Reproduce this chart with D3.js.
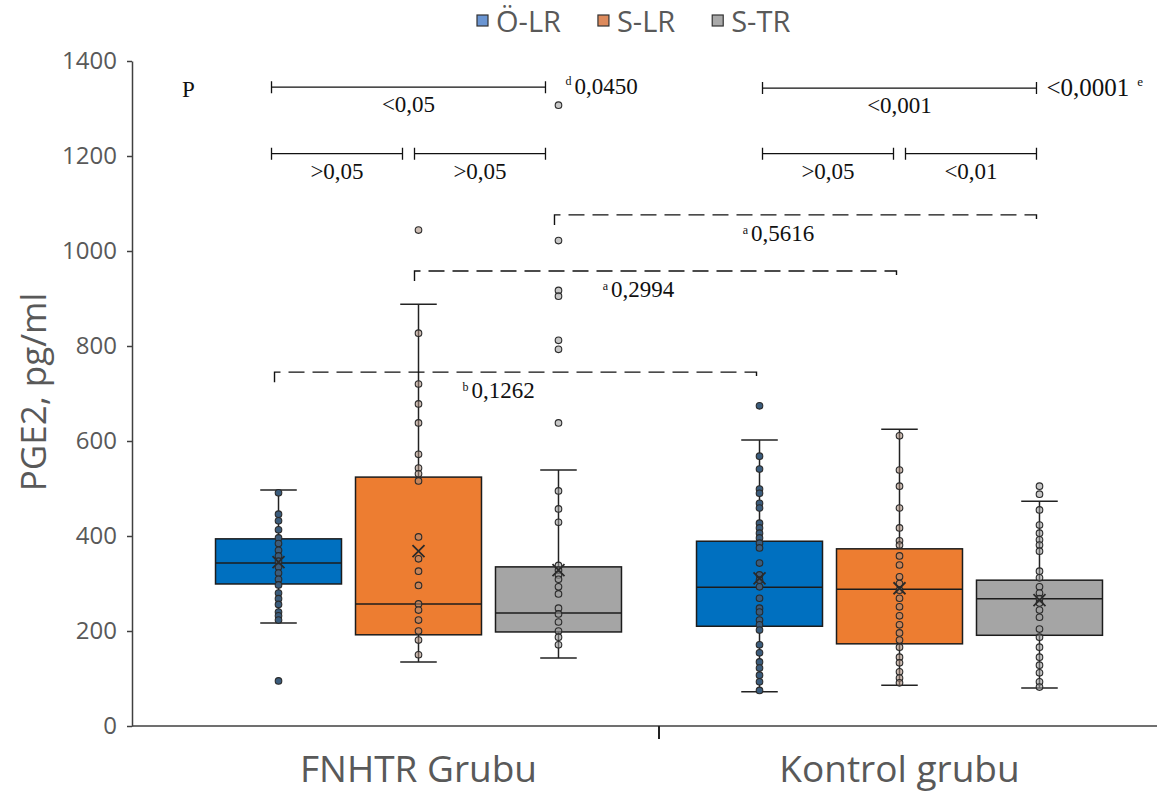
<!DOCTYPE html>
<html>
<head>
<meta charset="utf-8">
<script src="https://cdn.jsdelivr.net/npm/d3@7"></script>
<style>
  body { margin: 0; background: #fff; }
  svg text { font-family: "Open Sans", "Noto Sans", sans-serif; }
  .note { font-family: "Liberation Serif", "Times New Roman", serif; fill: #111; }
</style>
</head>
<body>
<svg width="1157" height="792"></svg>
<script>
// Categories
const groups = ["FNHTR Grubu", "Kontrol grubu"];
const series = ["Ö-LR", "S-LR", "S-TR"];
const yTicks = [0, 200, 400, 600, 800, 1000, 1200, 1400];

// Box statistics, [group][series]
const q1 = [[299, 192, 198], [210, 173, 191]];
const median = [[343, 257, 238], [292, 288, 268]];
const q3 = [[394, 524, 335], [389, 373, 307]];
const whiskerLow = [[217, 135, 143], [72, 86, 80]];
const whiskerHigh = [[497, 888, 539], [602, 625, 473]];
const mean = [[345, 368, 328], [311, 290, 265]];

// Individual points
const fnhtrOLR = [491, 446, 432, 413, 396, 384, 370, 358, 347, 335, 322, 309, 297, 280, 268, 256, 240, 232, 223, 95];
const fnhtrSLR = [1044, 827, 720, 678, 638, 572, 543, 531, 516, 398, 352, 326, 296, 257, 244, 223, 200, 181, 150];
const fnhtrSTR = [1307, 1022, 917, 905, 812, 793, 638, 495, 457, 429, 338, 328, 318, 309, 293, 278, 248, 236, 219, 200, 187, 171];
const kontrolOLR = [674, 568, 541, 499, 490, 469, 459, 427, 417, 406, 396, 385, 375, 343, 318, 307, 293, 269, 248, 240, 223, 213, 202, 171, 154, 135, 122, 107, 93, 75];
const kontrolSLR = [611, 539, 505, 459, 417, 390, 381, 358, 339, 314, 300, 286, 269, 251, 232, 213, 196, 181, 166, 145, 133, 114, 101, 91];
const kontrolSTR = [505, 488, 455, 423, 406, 392, 381, 368, 326, 312, 293, 280, 268, 259, 244, 229, 204, 187, 166, 145, 128, 112, 93, 82];

// Significance annotations: [group, from series, to series, value, label]
const withinBrackets = [
    [0, 0, 2, 1345, "<0,05"],
    [0, 0, 1, 1205, ">0,05"],
    [0, 1, 2, 1205, ">0,05"],
    [1, 0, 2, 1343, "<0,001"],
    [1, 0, 1, 1205, ">0,05"],
    [1, 1, 2, 1205, "<0,01"]
];
// Between groups, same series: [series, value, mark, label]
const betweenBrackets = [
    [0, 745, "b", "0,1262"],
    [1, 958, "a", "0,2994"],
    [2, 1076, "a", "0,5616"]
];
const groupP = ["0,0450", "<0,0001"];
const groupPMark = ["d", "e"];

const colors = ["#0070C0", "#ED7D31", "#A5A5A5"];
const legendColors = ["#6a95d2", "#dd8a5c", "#a9a9a9"];
const dotFill = ["#3b5c7c", "#a88b7a", "#9b9b9b"];

const points = [[fnhtrOLR, fnhtrSLR, fnhtrSTR], [kontrolOLR, kontrolSLR, kontrolSTR]];

const svg = d3.select("svg");

const y = d3.scaleLinear().domain([0, 1400]).range([726, 61]);
const x0 = d3.scaleBand().domain(groups).range([178, 1140]);
const x1 = d3.scaleBand().domain(series).range([0, x0.bandwidth()])
    .paddingInner(0.1).paddingOuter(0.268);
const cx = (g, s) => x0(groups[g]) + x1(series[s]) + x1.bandwidth() / 2;

// Flatten box rows
const boxes = [];
groups.forEach((g, gi) => series.forEach((s, si) => boxes.push({
    g: gi, s: si, q1: q1[gi][si], med: median[gi][si], q3: q3[gi][si],
    lo: whiskerLow[gi][si], hi: whiskerHigh[gi][si], mean: mean[gi][si]
})));

// Y axis
const yAxis = svg.append("g")
    .attr("transform", "translate(132,0)")
    .call(d3.axisLeft(y).tickValues(yTicks).tickFormat(d3.format("d"))
        .tickSize(5).tickSizeOuter(0).tickPadding(10));
yAxis.select(".domain").attr("stroke", "#404040").attr("stroke-width", 1.5);
yAxis.selectAll(".tick line").attr("stroke", "#404040").attr("stroke-width", 1.5);
yAxis.selectAll(".tick text").attr("fill", "#595959").style("font-size", "24px");

svg.append("text")
    .attr("transform", "translate(46,392) rotate(-90)")
    .attr("text-anchor", "middle")
    .attr("fill", "#595959")
    .style("font-size", "35px")
    .text("PGE2, pg/ml");

// X axis
svg.append("line")
    .attr("x1", 132).attr("x2", 1157)
    .attr("y1", y(0)).attr("y2", y(0))
    .attr("stroke", "#404040").attr("stroke-width", 1.5);
svg.append("line")
    .attr("x1", x0(groups[1])).attr("x2", x0(groups[1]))
    .attr("y1", y(0)).attr("y2", y(0) + 13)
    .attr("stroke", "#222").attr("stroke-width", 2);
const xAxis = svg.append("g")
    .attr("transform", `translate(0,${y(0)})`)
    .call(d3.axisBottom(x0).tickSize(0).tickPadding(30));
xAxis.select(".domain").remove();
xAxis.selectAll(".tick text").attr("fill", "#595959").style("font-size", "37px");

// Whiskers
const capW = x1.bandwidth() * 0.29;
const bx = svg.append("g").attr("class", "boxes");
boxes.forEach(d => {
    const c = cx(d.g, d.s);
    [[d.q3, d.hi], [d.q1, d.lo]].forEach(([a, b]) => {
        bx.append("line").attr("x1", c).attr("x2", c)
            .attr("y1", y(a)).attr("y2", y(b))
            .attr("stroke", "#222").attr("stroke-width", 1.5);
        bx.append("line").attr("x1", c - capW / 2).attr("x2", c + capW / 2)
            .attr("y1", y(b)).attr("y2", y(b))
            .attr("stroke", "#222").attr("stroke-width", 1.5);
    });
});

// Boxes
bx.selectAll("rect")
    .data(boxes)
    .enter()
    .append("rect")
    .attr("x", d => cx(d.g, d.s) - x1.bandwidth() / 2)
    .attr("y", d => y(d.q3))
    .attr("width", x1.bandwidth())
    .attr("height", d => y(d.q1) - y(d.q3))
    .attr("fill", d => colors[d.s])
    .attr("stroke", "#1c1c1c")
    .attr("stroke-width", 1.5);

bx.selectAll("line.median")
    .data(boxes)
    .enter()
    .append("line")
    .attr("class", "median")
    .attr("x1", d => cx(d.g, d.s) - x1.bandwidth() / 2)
    .attr("x2", d => cx(d.g, d.s) + x1.bandwidth() / 2)
    .attr("y1", d => y(d.med)).attr("y2", d => y(d.med))
    .attr("stroke", "#1c1c1c").attr("stroke-width", 1.5);

// Points
const dots = [];
points.forEach((row, gi) => row.forEach((vals, si) => vals.forEach(v => dots.push({ g: gi, s: si, v: v }))));
svg.append("g").selectAll("circle")
    .data(dots)
    .enter()
    .append("circle")
    .attr("cx", d => cx(d.g, d.s))
    .attr("cy", d => y(d.v))
    .attr("r", 3.3)
    .attr("fill", d => dotFill[d.s])
    .attr("fill-opacity", d => d.s === 0 ? 1 : 0.55)
    .attr("stroke", "#2a2a2a")
    .attr("stroke-width", 1.1);

// Mean markers
svg.append("g").selectAll("path")
    .data(boxes)
    .enter()
    .append("path")
    .attr("d", d => {
        const c = cx(d.g, d.s), m = y(d.mean), r = 6;
        return `M${c - r},${m - r}L${c + r},${m + r}M${c - r},${m + r}L${c + r},${m - r}`;
    })
    .attr("stroke", "#2a2a2a").attr("stroke-width", 1.8);

// Within-group brackets (the FNHTR set sits a little to the left)
const notes = svg.append("g");
const groupShift = [-10, 0];
withinBrackets.forEach(([g, a, b, v, label]) => {
    let xa = cx(g, a) + groupShift[g] + 3, xb = cx(g, b) + groupShift[g] - 3;
    if (b - a === 1) { if (a === 1) xa += 3; else xb -= 3; }
    const yy = y(v);
    notes.append("path")
        .attr("d", `M${xa},${yy}H${xb}M${xa},${yy - 6}V${yy + 6}M${xb},${yy - 6}V${yy + 6}`)
        .attr("fill", "none").attr("stroke", "#111").attr("stroke-width", 1.3);
    notes.append("text").attr("class", "note")
        .attr("x", (xa + xb) / 2).attr("y", yy + 25)
        .attr("text-anchor", "middle").style("font-size", "23px")
        .text(label);
});

// Overall group p-values at the right of the top brackets
const pLeft = notes.append("text").attr("class", "note")
    .attr("x", cx(0, 2) + 7).attr("y", y(1345) + 7).style("font-size", "23px");
pLeft.append("tspan").attr("dy", -9).style("font-size", "12px").text(groupPMark[0]);
pLeft.append("tspan").attr("dx", 3).attr("dy", 9).text(groupP[0]);
const pRight = notes.append("text").attr("class", "note")
    .attr("x", cx(1, 2) + 7).attr("y", y(1343) + 8).style("font-size", "25px");
pRight.append("tspan").text(groupP[1]);
pRight.append("tspan").attr("dx", 8).attr("dy", -10).style("font-size", "13px").text(groupPMark[1]);

notes.append("text").attr("class", "note")
    .attr("x", 182).attr("y", y(1345) + 10).style("font-size", "23px").text("P");

// Between-group dashed brackets
betweenBrackets.forEach(([s, v, mark, label]) => {
    const xa = cx(0, s) - 4, xb = cx(1, s) - 3, yy = y(v);
    notes.append("path")
        .attr("d", `M${xa},${yy + 10}V${yy}H${xb}V${yy + 10}`)
        .attr("fill", "none").attr("stroke", "#111").attr("stroke-width", 1.4)
        .attr("stroke-dasharray", "16,8");
    const t = notes.append("text").attr("class", "note")
        .attr("x", (xa + xb) / 2 - 17).attr("y", yy + 26)
        .attr("text-anchor", "middle").style("font-size", "23px");
    t.append("tspan").attr("dy", -7).style("font-size", "12px").text(mark);
    t.append("tspan").attr("dx", 3).attr("dy", 7).text(label);
});

// Legend
const legend = svg.append("g");
let lx = 477;
series.forEach((s, i) => {
    legend.append("rect")
        .attr("x", lx).attr("y", 15).attr("width", 11).attr("height", 11)
        .attr("fill", legendColors[i]).attr("stroke", "#333").attr("stroke-width", 1.2);
    const t = legend.append("text")
        .attr("x", lx + 19).attr("y", 32)
        .attr("fill", "#595959").style("font-size", "29px")
        .text(s);
    lx += 19 + t.node().getComputedTextLength() + 37;
});
</script>
</body>
</html>
